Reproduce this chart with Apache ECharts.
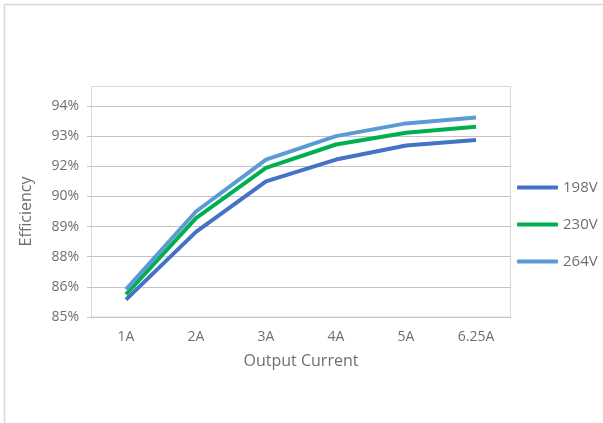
<!DOCTYPE html>
<html>
<head>
<meta charset="utf-8">
<script src="https://cdn.jsdelivr.net/npm/echarts@6/dist/echarts.min.js"></script>
<style>
  html, body { margin: 0; padding: 0; background: #fff; }
  #chart { width: 603px; height: 423px; }
</style>
</head>
<body>
<div id="chart"></div>
<script>
// Efficiency (%) versus output current, one line per input voltage
const currents = ['1A', '2A', '3A', '4A', '5A', '6.25A'];
const eff198 = [85.75, 88.67, 90.85, 91.79, 92.40, 92.63];
const eff230 = [85.98, 89.26, 91.43, 92.44, 92.95, 93.21];
const eff264 = [86.19, 89.55, 91.79, 92.80, 93.35, 93.60];
const yTickLabels = ['85%', '86%', '88%', '89%', '90%', '92%', '93%', '94%'];

const textColor = '#6f6f6f';
const fontFamily = '"Open Sans", "Noto Sans", sans-serif';

const chart = echarts.init(document.getElementById('chart'), null, { renderer: 'canvas' });

function lineSeries(name, data, color) {
  return {
    name: name,
    type: 'line',
    data: data,
    symbol: 'none',
    smooth: false,
    lineStyle: { color: color, width: 4 },
    itemStyle: { color: color },
    z: 3
  };
}

chart.setOption({
  backgroundColor: '#ffffff',
  animation: false,
  textStyle: { fontFamily: fontFamily },
  grid: { left: 91, right: 92, top: 106, bottom: 106 },
  graphic: [
    // outer chart area edges
    { type: 'line', shape: { x1: 4.5, y1: 4, x2: 4.5, y2: 423 }, style: { stroke: '#d9d9d9', lineWidth: 1.5 } },
    { type: 'line', shape: { x1: 4, y1: 4.5, x2: 603, y2: 4.5 }, style: { stroke: '#d9d9d9', lineWidth: 1.5 } },
    // plot area border
    { type: 'rect', shape: { x: 91.5, y: 86.5, width: 419, height: 230.5 }, style: { fill: 'none', stroke: '#d9d9d9', lineWidth: 1 }, z: 0 }
  ],
  legend: {
    orient: 'vertical',
    left: 512,
    top: 173,
    icon: 'roundRect',
    itemWidth: 41,
    itemHeight: 4,
    itemGap: 18,
    textStyle: { color: textColor, fontSize: 15, fontFamily: fontFamily, lineHeight: 19 },
    data: ['198V', '230V', '264V']
  },
  xAxis: {
    type: 'category',
    data: currents,
    boundaryGap: true,
    axisLine: { show: false },
    axisTick: { show: false },
    axisLabel: { color: textColor, fontSize: 14, margin: 13 },
    name: 'Output Current',
    nameLocation: 'middle',
    nameGap: 36,
    nameTextStyle: { color: textColor, fontSize: 16 }
  },
  yAxis: {
    type: 'value',
    min: 85,
    max: 94.1,
    interval: 1.3,
    axisLine: { show: false },
    axisTick: { show: true, length: 4, lineStyle: { color: '#c4c4c4' } },
    splitLine: { lineStyle: { color: '#c4c4c4', width: 1 } },
    axisLabel: {
      color: textColor,
      fontSize: 14,
      margin: 12,
      formatter: function (v, i) { return yTickLabels[i]; }
    },
    name: 'Efficiency',
    nameLocation: 'middle',
    nameGap: 57,
    nameRotate: 90,
    nameTextStyle: { color: textColor, fontSize: 16 }
  },
  series: [
    lineSeries('198V', eff198, '#4472c4'),
    lineSeries('230V', eff230, '#00b050'),
    lineSeries('264V', eff264, '#5b9bd5')
  ]
});
</script>
</body>
</html>
